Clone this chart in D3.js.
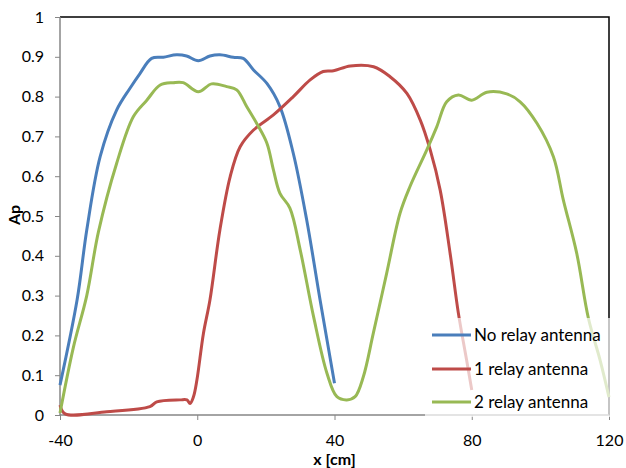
<!DOCTYPE html>
<html>
<head>
<meta charset="utf-8">
<script src="https://cdn.jsdelivr.net/npm/d3@7"></script>
<style>
body { margin: 0; background: #fff; }
text { font-family: Lato, "Open Sans", sans-serif; fill: #000; }
</style>
</head>
<body>
<svg id="chart" width="626" height="468"></svg>
<script>
// values
var xTicks = [-40, 0, 40, 80, 120];
var yTicks = [0, 0.1, 0.2, 0.3, 0.4, 0.5, 0.6, 0.7, 0.8, 0.9, 1];
var seriesNames = ["No relay antenna", "1 relay antenna", "2 relay antenna"];
var seriesColors = ["#4A7EBB", "#BE4B48", "#98B954"];

var noRelayX = [-40, -35, -32.2, -28.3, -23.5, -19.6, -16.7, -13.3, -9.9, -6, -3.1, 0.3, 3.7, 6.6, 10.5, 13.4, 16.4, 20.3, 24.1, 28, 31.9, 35.8, 40];
var noRelayY = [0.075, 0.29, 0.465, 0.649, 0.766, 0.821, 0.858, 0.896, 0.899, 0.905, 0.902, 0.89, 0.902, 0.905, 0.899, 0.896, 0.867, 0.833, 0.775, 0.657, 0.49, 0.289, 0.08];

var oneRelayX = [-40, -38.5, -26.4, -13.8, -11.8, -5, -3, -2.1, -1.1, -0.1, 1.8, 3.7, 6.6, 9.6, 12.5, 16.4, 22.2, 28, 32.9, 36.7, 39.7, 44.6, 51.4, 56.2, 61.1, 65, 67.9, 70.8, 73.7, 76.1, 78.5, 80];
var oneRelayY = [0.025, 0.003, 0.008, 0.021, 0.033, 0.038, 0.038, 0.029, 0.046, 0.088, 0.205, 0.289, 0.465, 0.599, 0.674, 0.716, 0.754, 0.8, 0.842, 0.863, 0.865, 0.877, 0.875, 0.85, 0.808, 0.741, 0.666, 0.565, 0.406, 0.256, 0.138, 0.063];

var twoRelayX = [-40, -36.1, -32.2, -28.8, -23.5, -18.6, -14.7, -10.8, -7, -4.1, 0.3, 4.2, 8.6, 11.5, 14.4, 17.3, 20.3, 22.2, 24.1, 27, 30, 33.9, 37.8, 40.7, 43.6, 46, 48.4, 51.3, 55.2, 59.1, 62, 66.9, 69.8, 72.7, 76.1, 80, 84.4, 90.2, 94.1, 99, 103.8, 106.7, 110.6, 114, 117.4, 120];
var twoRelayY = [0.005, 0.17, 0.3, 0.46, 0.632, 0.75, 0.791, 0.829, 0.835, 0.835, 0.812, 0.832, 0.825, 0.817, 0.775, 0.733, 0.683, 0.616, 0.557, 0.52, 0.415, 0.247, 0.105, 0.046, 0.038, 0.046, 0.096, 0.205, 0.356, 0.507, 0.574, 0.666, 0.724, 0.787, 0.804, 0.791, 0.811, 0.807, 0.787, 0.733, 0.649, 0.54, 0.406, 0.243, 0.138, 0.045];

var seriesX = [noRelayX, oneRelayX, twoRelayX];
var seriesY = [noRelayY, oneRelayY, twoRelayY];

var plotLeft = 60, plotRight = 609, plotTop = 17, plotBottom = 415;

var svg = d3.select("#chart");
var x = d3.scaleLinear().domain([-40, 120]).range([plotLeft, plotRight]);
var y = d3.scaleLinear().domain([0, 1]).range([plotBottom, plotTop]);

// plot frame: top and right in black
svg.append("path")
    .attr("d", "M" + plotLeft + "," + plotTop + "H" + plotRight + "V" + plotBottom)
    .attr("fill", "none")
    .attr("stroke", "#000")
    .attr("stroke-width", 1.5);

var yAxis = svg.append("g")
    .attr("transform", "translate(" + plotLeft + ",0)")
    .call(d3.axisLeft(y).tickValues(yTicks).tickSize(5).tickPadding(11).tickFormat(function(d) { return String(d); }));
var xAxis = svg.append("g")
    .attr("transform", "translate(0," + plotBottom + ")")
    .call(d3.axisBottom(x).tickValues(xTicks).tickSize(5).tickPadding(15).tickFormat(function(d) { return String(d); }));

[yAxis, xAxis].forEach(function(a) {
    a.select(".domain").attr("stroke", "#868686").attr("stroke-width", 1.5);
    a.selectAll(".tick line").attr("stroke", "#868686").attr("stroke-width", 1);
    a.selectAll("text").attr("font-size", 16).attr("font-family", "Lato, 'Open Sans', sans-serif").attr("fill", "#000");
});
xAxis.select(".domain").attr("d", "M" + plotLeft + ",0H" + plotRight);
yAxis.select(".domain").attr("d", "M0," + plotBottom + "V" + plotTop);

var line = d3.line()
    .x(function(d) { return x(d[0]); })
    .y(function(d) { return y(d[1]); })
    .curve(d3.curveCatmullRom.alpha(0.5));

for (var i = 0; i < seriesX.length; i++) {
    var pts = seriesX[i].map(function(v, j) { return [v, seriesY[i][j]]; });
    svg.append("path")
        .datum(pts)
        .attr("d", line)
        .attr("fill", "none")
        .attr("stroke", seriesColors[i])
        .attr("stroke-width", 3)
        .attr("stroke-linejoin", "round");
}

// legend box sits on top of the plot, washing out what is behind
svg.append("rect")
    .attr("x", 425).attr("y", 318)
    .attr("width", plotRight + 2 - 425).attr("height", plotBottom + 2 - 318)
    .attr("fill", "#fff")
    .attr("fill-opacity", 0.7);

var legendRows = [335, 369, 402];
var legend = svg.append("g");
seriesNames.forEach(function(name, i) {
    legend.append("line")
        .attr("x1", 432).attr("x2", 471)
        .attr("y1", legendRows[i]).attr("y2", legendRows[i])
        .attr("stroke", seriesColors[i])
        .attr("stroke-width", 3);
    legend.append("text")
        .attr("x", 474).attr("y", legendRows[i])
        .attr("dy", "0.35em")
        .attr("font-size", 17)
        .text(name);
});

svg.append("text")
    .attr("x", (plotLeft + plotRight) / 2).attr("y", 465)
    .attr("text-anchor", "middle")
    .attr("font-size", 16)
    .attr("font-weight", "bold")
    .text("x [cm]");

svg.append("text")
    .attr("transform", "translate(20,215) rotate(-90)")
    .attr("text-anchor", "middle")
    .attr("font-size", 16)
    .attr("font-weight", "bold")
    .text("Ap");
</script>
</body>
</html>
